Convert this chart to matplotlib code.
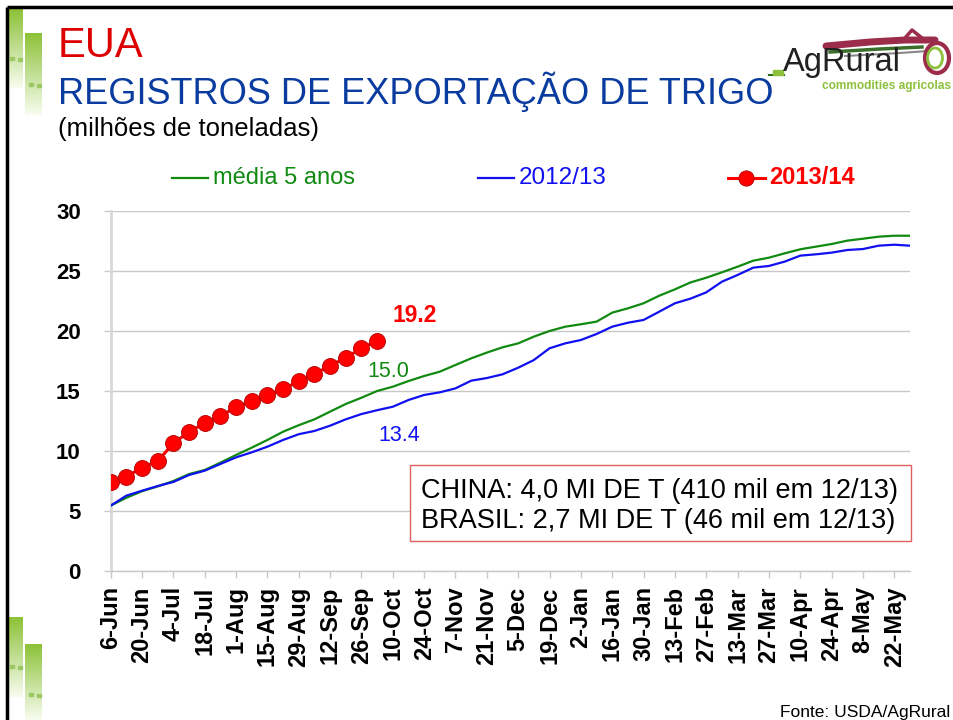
import matplotlib
matplotlib.use("Agg")
import matplotlib.pyplot as plt
import numpy as np
from matplotlib.patches import Rectangle, Ellipse
from matplotlib.lines import Line2D

plt.rcParams['font.family'] = ['Liberation Sans', 'DejaVu Sans']

# Weekly cumulative export registrations (million tonnes), week of 6-Jun onwards
media_5_anos = [5.45, 6.1, 6.65, 7.05, 7.5, 8.08, 8.42, 9.03, 9.67, 10.28, 10.92, 11.61,
                12.15, 12.64, 13.28, 13.92, 14.44, 15.0, 15.36, 15.83, 16.25, 16.61, 17.17,
                17.72, 18.2, 18.64, 18.97, 19.53, 20.0, 20.36, 20.56, 20.78, 21.53, 21.89,
                22.31, 22.94, 23.47, 24.05, 24.44, 24.89, 25.36, 25.86, 26.11, 26.47, 26.81,
                27.03, 27.25, 27.53, 27.69, 27.86, 27.94, 27.94]
safra_2012_13 = [5.45, 6.28, 6.69, 7.08, 7.42, 8.0, 8.36, 8.92, 9.47, 9.89, 10.36, 10.92,
                 11.4, 11.67, 12.11, 12.64, 13.08, 13.4, 13.69, 14.25, 14.67, 14.89, 15.22,
                 15.86, 16.08, 16.39, 16.94, 17.58, 18.56, 18.97, 19.25, 19.75, 20.36, 20.69,
                 20.92, 21.61, 22.31, 22.7, 23.22, 24.11, 24.67, 25.28, 25.42, 25.78, 26.28,
                 26.39, 26.53, 26.75, 26.83, 27.11, 27.19, 27.11]
safra_2013_14 = [7.44, 7.86, 8.61, 9.17, 10.64, 11.61, 12.31, 12.92, 13.64, 14.19, 14.67,
                 15.14, 15.83, 16.42, 17.11, 17.78, 18.56, 19.2]

tick_labels = ['6-Jun', '20-Jun', '4-Jul', '18-Jul', '1-Aug', '15-Aug', '29-Aug', '12-Sep',
               '26-Sep', '10-Oct', '24-Oct', '7-Nov', '21-Nov', '5-Dec', '19-Dec', '2-Jan',
               '16-Jan', '30-Jan', '13-Feb', '27-Feb', '13-Mar', '27-Mar', '10-Apr', '24-Apr',
               '8-May', '22-May']
y_ticks = [0, 5, 10, 15, 20, 25, 30]

label_5y = 'média 5 anos'
label_12 = '2012/13'
label_13 = '2013/14'

GREEN = '#108a10'
BLUE = '#1010f0'
RED = '#ff0000'

W, H = 954, 720
fig = plt.figure(figsize=(W / 100, H / 100), dpi=100)

# background layer in pixel coordinates (slide decoration)
bg = fig.add_axes([0, 0, 1, 1], zorder=0)
bg.set_xlim(0, W)
bg.set_ylim(H, 0)
bg.axis('off')

def green_bar(x0, x1, y0, y1):
    n = 100
    t = np.linspace(0, 1, n)[:, None]
    top = np.array([0.55, 0.76, 0.22])
    bot = np.array([0.97, 0.99, 0.94])
    grad = top * (1 - t) + bot * t
    img = np.repeat(grad[:, None, :], 2, axis=1)
    bg.imshow(img, extent=(x0, x1, y1, y0), aspect='auto', interpolation='bilinear', zorder=1)

green_bar(8, 23, 9, 88)
green_bar(25, 42, 33, 115)
green_bar(8, 23, 617, 697)
green_bar(25, 42, 644, 720)
for (x, y) in [(10, 58), (18, 59), (29, 84), (37, 85), (10, 666), (18, 667), (29, 694), (37, 695)]:
    bg.add_patch(Rectangle((x, y - 1.5), 4, 3, color='#9cc864', zorder=2))

bg.plot([7, W], [7, 7], color='black', lw=2.5, zorder=3, solid_capstyle='butt')
bg.plot([7, 7], [7, H], color='black', lw=2.5, zorder=3, solid_capstyle='butt')

# titles
fig.text(58 / W, 1 - 57 / H, 'EUA', color='#dd0000', fontsize=30, va='baseline', ha='left')
fig.text(58 / W, 1 - 104 / H, 'REGISTROS DE EXPORTAÇÃO DE TRIGO', color='#0a3ca0',
         fontsize=26, va='baseline', ha='left')
fig.text(58 / W, 1 - 136 / H, '(milhões de toneladas)', color='black', fontsize=18.5,
         va='baseline', ha='left')

# logo
bg.plot([769, 784], [75, 75], color='#2e6b1e', lw=1.5, zorder=3)
bg.add_patch(Rectangle((773, 70), 10, 5, color='#8dc03c', zorder=3))
bg.plot([826, 870, 905, 935], [46, 42, 40, 40], color='#9b2d4a', lw=5, zorder=3,
        solid_capstyle='round')
bg.plot([830, 880, 922], [52, 49, 47], color='#3b6e2a', lw=2.5, zorder=3)
bg.plot([845, 900, 928], [56, 53, 51], color='#888888', lw=1.5, zorder=3)
bg.plot([905, 912, 922], [38, 30, 38], color='#9b2d4a', lw=2.5, zorder=3)
bg.add_patch(Ellipse((937, 58), 24, 30, fill=False, ec='#9b2d4a', lw=3, zorder=3))
bg.add_patch(Ellipse((935, 58), 15, 20, fill=False, ec='#8dc03c', lw=2, zorder=3))
bg.text(783, 71, 'AgRural', fontsize=23.5, color='#222222', va='baseline', ha='left', zorder=4)
bg.text(822, 89, 'commodities agricolas', fontsize=8.6, color='#8dc03c', va='baseline',
        ha='left', fontweight='bold', zorder=4)

# main chart
L, R, T, B = 110.7, 910, 211, 571
ax = fig.add_axes([L / W, 1 - B / H, (R - L) / W, (B - T) / H], zorder=2)
ax.patch.set_alpha(0)

x_all = np.arange(len(media_5_anos))
x_red = np.arange(len(safra_2013_14))

ax.plot(x_all, media_5_anos, color=GREEN, lw=1.6, zorder=3)
ax.plot(x_all, safra_2012_13, color=BLUE, lw=1.6, zorder=3)
ax.plot(x_red, safra_2013_14, color=RED, lw=2.2, marker='o', ms=11.5,
        markerfacecolor=RED, markeredgecolor='#b00000', markeredgewidth=0.6, zorder=4)

ax.set_xlim(0, len(media_5_anos) - 1)
ax.set_ylim(0, 30)
ax.set_yticks(y_ticks)
ax.set_yticklabels([str(v) for v in y_ticks], fontsize=16, fontweight='bold')
ax.set_xticks(np.arange(0, 2 * len(tick_labels), 2))
ax.set_xticklabels(tick_labels, rotation=90, fontsize=17, fontweight='bold')
ax.grid(axis='y', color='#c8c8c8', lw=1)
ax.set_axisbelow(True)
ax.tick_params(axis='y', length=5, color='#c8c8c8', width=1, pad=16.5)
ax.tick_params(axis='x', length=5, color='#c8c8c8', width=1, pad=6)
for s in ['top', 'right']:
    ax.spines[s].set_visible(False)
ax.spines['left'].set_color('#d8d8d8')
ax.spines['left'].set_linewidth(2)
ax.spines['bottom'].set_color('#c8c8c8')
ax.spines['bottom'].set_linewidth(1)

# data labels at the latest week
i_last = len(safra_2013_14) - 1
ax.annotate(f'{safra_2013_14[i_last]:.1f}', (i_last, safra_2013_14[i_last]),
            xytext=(27, 18), textcoords='offset points', ha='center', va='center',
            color=RED, fontsize=16.5, fontweight='bold')
ax.annotate(f'{media_5_anos[i_last]:.1f}', (i_last, media_5_anos[i_last]),
            xytext=(8, 14), textcoords='offset points', ha='center', va='center',
            color=GREEN, fontsize=15.5)
ax.annotate(f'{safra_2012_13[i_last]:.1f}', (i_last, safra_2012_13[i_last]),
            xytext=(16, -18), textcoords='offset points', ha='center', va='center',
            color=BLUE, fontsize=15.5)

# foreground layer in pixel coordinates: legend and note box
fg = fig.add_axes([0, 0, 1, 1], zorder=3)
fg.set_xlim(0, W)
fg.set_ylim(H, 0)
fg.axis('off')
fg.patch.set_alpha(0)

fg.add_line(Line2D([172, 208], [178, 178], color=GREEN, lw=1.6))
fg.text(213, 178, label_5y, color=GREEN, fontsize=17, va='center', ha='left')
fg.add_line(Line2D([478, 514], [178, 178], color=BLUE, lw=1.6))
fg.text(519, 178, label_12, color=BLUE, fontsize=17.5, va='center', ha='left')
fg.add_line(Line2D([728, 765], [178, 178], color=RED, lw=2.2))
fg.add_line(Line2D([746], [178], color=RED, marker='o', ms=11, markerfacecolor=RED,
                   markeredgecolor='#b00000', markeredgewidth=0.6))
fg.text(769, 178, label_13, color=RED, fontsize=17, fontweight='bold', va='center', ha='left')

fg.add_patch(Rectangle((410, 465), 501, 76, facecolor='white', edgecolor='#e06060', lw=1))
fg.text(421, 491, 'CHINA: 4,0 MI DE T (410 mil em 12/13)', fontsize=19.5, va='center', ha='left')
fg.text(421, 521, 'BRASIL: 2,7 MI DE T (46 mil em 12/13)', fontsize=19.5, va='center', ha='left')

fg.text(950, 712, 'Fonte: USDA/AgRural', fontsize=12.5, va='center', ha='right')

fig.savefig('out.png', dpi=100)
